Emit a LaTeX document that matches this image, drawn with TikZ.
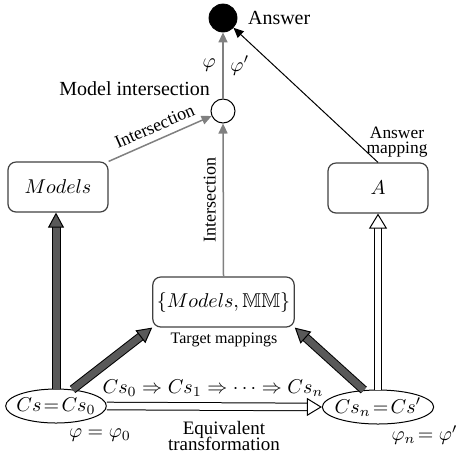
\documentclass[tikz,border=0pt]{standalone}
\usepackage{fontspec}
\setmainfont{Liberation Serif}
\usepackage{amssymb}
\usetikzlibrary{arrows.meta,shapes.geometric}

\newcommand\tightlines{\lineskiplimit=-10pt\relax}

\tikzset{
	box/.style={draw=black!75, line width=0.6pt, rounded corners=4pt, minimum width=50pt, minimum height=25pt, inner sep=2pt},
	state/.style={draw, ellipse, line width=0.5pt, inner xsep=-2pt, inner ysep=0pt, minimum width=46pt, minimum height=17pt},
	grayarr/.style={draw=black!50, line width=0.75pt, -{Triangle[length=5pt,width=4.5pt]}},
	thinarr/.style={draw=black, line width=0.5pt, -{Triangle[length=5pt,width=4.5pt]}},
	fatarr/.style={line width=0.5pt, double=black!65, double distance=3.5pt, -{Triangle[length=7.5pt,width=8pt,fill=black!65]}},
	hollowarr/.style={line width=0.5pt, double=white, double distance=3.3pt, -{Triangle[length=7.5pt,width=9pt,fill=white]}},
	small/.style={font=\fontsize{9}{10}\selectfont},
}

\begin{document}
\begin{tikzpicture}[x=0.5pt, y=-0.5pt]
	%%%%% START %%%%%
	\useasboundingbox (0,0) rectangle (459,457);
	
	\node[circle, fill=black, draw, minimum size=14pt, inner sep=0pt] (ans) at (223,18) {};
	\node[anchor=west] (anstext) at (241,18) {Answer};
	
	\node[circle, draw, line width=0.5pt, minimum size=12pt, inner sep=0pt] (mi) at (223,111) {};
	\node[anchor=base east] (mitext) at (217,95) {Model intersection};
	
	\node[box] (models) at (58,187) {$Models$};
	\node[box] (A) at (378,188) {$A$};
	\node[box, minimum width=62.5pt] (mm) at (223.5,302) {$\{Models,\mathbb{MM}\}$};
	\node[font=\fontsize{8}{9}\selectfont] (tm) at (224,340) {Target mappings};
	
	\node[state] (cs) at (56,406) {$Cs\!=\!Cs_0$};
	\node[state] (csn) at (378,407) {$Cs_n\!=\!Cs'$};
	\node (phi0) at (100,435) {$\varphi=\varphi_0$};
	\node[anchor=east, inner sep=0pt] (phin) at (458,435) {$\varphi_n\!=\varphi'$};
	
	\node[anchor=base] (seq) at (213,393) {$Cs_0\Rightarrow Cs_1\Rightarrow\cdots\Rightarrow Cs_n$};
	\node[align=center, anchor=south, inner sep=0pt, font={\fontsize{9.5}{8}\selectfont\tightlines}] (eqt) at (224,451) {Equivalent\\transformation};
	
	% upper part
	\draw[grayarr] (mi) -- (ans) node[midway, left] {$\varphi$} node[midway, right] {$\varphi'$};
	\draw[grayarr] (models.north east) -- (mi) node[small, midway, above, sloped] {Intersection};
	\draw[grayarr] (mm.north) -- (mi) node[small, midway, anchor=south, rotate=90] {Intersection};
	\draw[thinarr] (A.north) -- (ans);
	\node[align=center, font=\fontsize{8.7}{7.2}\selectfont] (amap) at (397,142) {Answer\\mapping};
	
	% lower part
	\draw[fatarr] (cs.north) -- (cs.north |- models.south);
	\draw[fatarr] (cs.45) -- (mm.south west);
	\draw[fatarr] (csn.130) -- (mm.south east);
	\draw[hollowarr] (csn.north) -- (csn.north |- A.south);
	\draw[hollowarr] (cs.east) -- (csn.west);
	
	%%%%% END %%%%%
\end{tikzpicture}
\end{document}
